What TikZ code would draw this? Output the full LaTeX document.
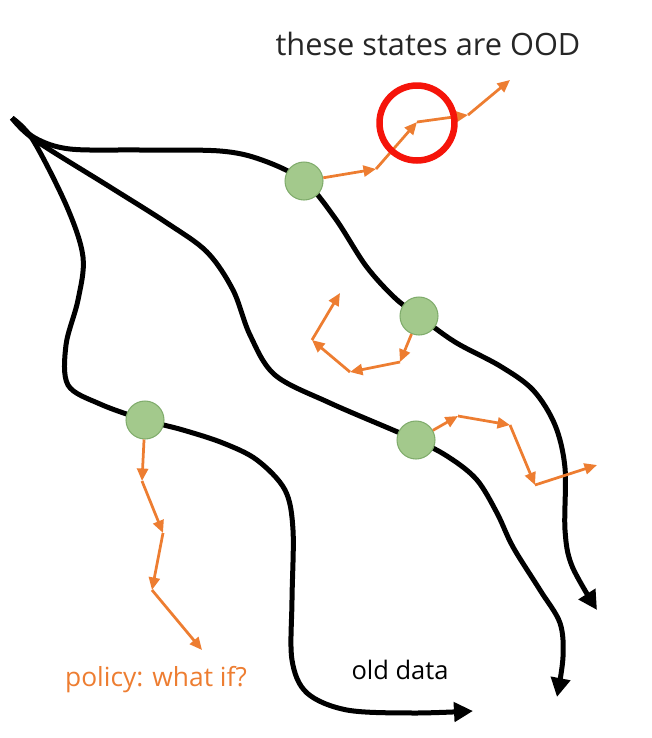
\documentclass[tikz,border=0pt]{standalone}
\usepackage{fontspec}
\setmainfont{Open Sans}
\usepackage{tikz}
\usetikzlibrary{arrows.meta, positioning, backgrounds}
\definecolor{stateGreen}{RGB}{163, 201, 140}
\definecolor{stateEdge}{RGB}{128, 172, 108}
\definecolor{walkOrange}{RGB}{237, 125, 49}
\definecolor{oodRed}{RGB}{245, 20, 10}
\tikzset{
  trajectory/.style={
    line width=0.1cm, color=black,
    -{Triangle[length=0.38cm, width=0.38cm]}
  },
  statenode/.style={
    circle, draw=stateEdge, fill=stateGreen,
    line width=0.6pt, minimum size=0.76cm, inner sep=0pt
  },
  walk/.style={
    line width=0.055cm, color=walkOrange,
    -{Triangle[length=0.25cm, width=0.22cm]}
  },
  oodring/.style={
    circle, draw=oodRed, line width=0.13cm,
    minimum size=1.5cm, inner sep=0pt
  },
  label/.style={
    inner sep=0pt, font=\fontsize{14.5pt}{16pt}\selectfont
  }
}

\begin{document}
\begin{tikzpicture}[x=0.02cm, y=-0.02cm]
\useasboundingbox (0,0) rectangle (652,738);

% --- states on the old data ---
\node[statenode] (s1) at (304,181) {};
\node[statenode] (s2) at (419,316) {};
\node[statenode] (s3) at (145,420) {};
\node[statenode] (s4) at (416,440) {};

% --- old trajectories ---
\begin{scope}[on background layer]
\draw[trajectory] plot[smooth, tension=0.55] coordinates {
  (12,118) (35,138) (70,149) (140,150) (220,151) (262,160) (s1.center)
  (335,218) (366,266) (395,298) (s2.center) (455,342) (500,366)
  (533,390) (555,425) (565,468) (565,530) (572,566) (597,610)};
\draw[trajectory] plot[smooth, tension=0.55] coordinates {
  (12,118) (35,140) (110,187) (167,223) (207,252) (233,290) (250,335)
  (275,375) (330,403) (s4.center) (450,458) (477,480) (497,513)
  (513,547) (540,590) (560,623) (563,657) (557,697)};
\draw[trajectory] plot[smooth, tension=0.55] coordinates {
  (12,118) (33,140) (67,207) (83,257) (78,300) (66,345) (68,385)
  (100,404) (s3.center) (183,430) (223,443) (257,460) (285,490)
  (293,530) (292,600) (292,660) (307,693) (347,710) (413,713) (473,711)};
\end{scope}

% --- policy steps ---
\coordinate (a1) at (376,169);
\coordinate (a2) at (417,122);
\coordinate (a3) at (468,115);
\coordinate (a4) at (510,80);
\draw[walk] (s1) -- (a1);
\draw[walk] (a1) -- (a2);
\draw[walk] (a2) -- (a3);
\draw[walk] (a3) -- (a4);

\coordinate (b1) at (400,362);
\coordinate (b2) at (350,372);
\coordinate (b3) at (312,340);
\coordinate (b4) at (340,293);
\draw[walk] (s2) -- (b1);
\draw[walk] (b1) -- (b2);
\draw[walk] (b2) -- (b3);
\draw[walk] (b3) -- (b4);

\coordinate (c1) at (458,416);
\coordinate (c2) at (510,425);
\coordinate (c3) at (535,485);
\coordinate (c4) at (597,465);
\draw[walk] (s4) -- (c1);
\draw[walk] (c1) -- (c2);
\draw[walk] (c2) -- (c3);
\draw[walk] (c3) -- (c4);

\coordinate (d1) at (142,481);
\coordinate (d2) at (163,533);
\coordinate (d3) at (152,590);
\coordinate (d4) at (202,650);
\draw[walk] (s3) -- (d1);
\draw[walk] (d1) -- (d2);
\draw[walk] (d2) -- (d3);
\draw[walk] (d3) -- (d4);

% --- out of distribution ---
\node[oodring] (ring) at (417,123) {};

% --- labels ---
\node[label, font=\fontsize{17.5pt}{20pt}\selectfont, text=black!85] (ood) at (428,44) {these states are OOD};
\node[label, font=\fontsize{15pt}{18pt}\selectfont, text=walkOrange] (policy) at (156,680) {policy: what if?};
\node[label] (olddata) at (400,670) {old data};

\end{tikzpicture}
\end{document}
